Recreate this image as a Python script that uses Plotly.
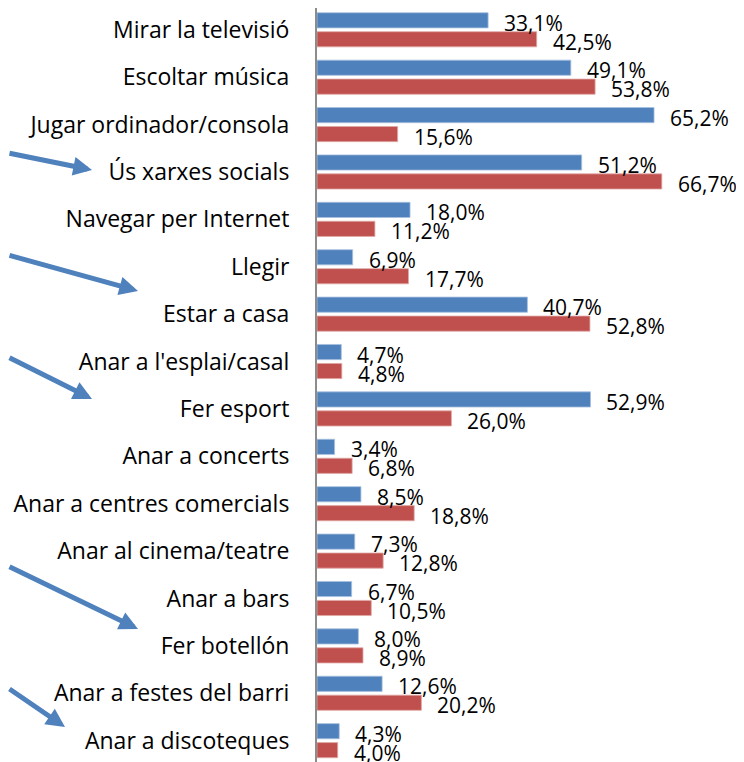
import plotly.graph_objects as go

categories = [
    "Mirar la televisió", "Escoltar música", "Jugar ordinador/consola",
    "Ús xarxes socials", "Navegar per Internet", "Llegir", "Estar a casa",
    "Anar a l'esplai/casal", "Fer esport", "Anar a concerts",
    "Anar a centres comercials", "Anar al cinema/teatre", "Anar a bars",
    "Fer botellón", "Anar a festes del barri", "Anar a discoteques",
]
blue_vals = [33.1, 49.1, 65.2, 51.2, 18.0, 6.9, 40.7, 4.7, 52.9, 3.4, 8.5, 7.3, 6.7, 8.0, 12.6, 4.3]
red_vals = [42.5, 53.8, 15.6, 66.7, 11.2, 17.7, 52.8, 4.8, 26.0, 6.8, 18.8, 12.8, 10.5, 8.9, 20.2, 4.0]

BLUE = "#4F81BD"
RED = "#C0504D"
FONT = "Open Sans"

# the page body keeps its default 8px margin, so the figure is 8px smaller
PAGE_OFF = 8
W, H = 744 - PAGE_OFF, 762 - PAGE_OFF
ML, MT = 317 - PAGE_OFF, 0


def fmt(v):
    return f"{v:.1f}".replace(".", ",") + "%"


fig = go.Figure()
fig.add_trace(go.Bar(y=categories, x=blue_vals, orientation="h",
                     marker=dict(color=BLUE, line=dict(color="#A7C0DE", width=0.8)),
                     hoverinfo="x+y"))
fig.add_trace(go.Bar(y=categories, x=red_vals, orientation="h",
                     marker=dict(color=RED, line=dict(color="#E0A8A6", width=0.8)),
                     hoverinfo="x+y"))

annotations = []
# value labels to the right of each bar
for cat, b, r in zip(categories, blue_vals, red_vals):
    annotations.append(dict(x=b, y=cat, xref="x", yref="y", text=fmt(b), showarrow=False,
                            xanchor="left", xshift=14, yshift=7, font=dict(size=21)))
    annotations.append(dict(x=r, y=cat, xref="x", yref="y", text=fmt(r), showarrow=False,
                            xanchor="left", xshift=14, yshift=-12, font=dict(size=21)))

# decorative arrows on the left (page pixel positions: tail -> tip)
arrows = [((-10, 153), (92, 170)), ((-10, 255), (138, 291)), ((-10, 357), (92, 399)),
          ((-10, 566), (138, 629)), ((-10, 688), (65, 727))]
pw, ph = W - ML, H - MT
for (tx, ty), (hx, hy) in arrows:
    fx, fy = hx - PAGE_OFF, hy - PAGE_OFF
    annotations.append(dict(
        x=(fx - ML) / pw, y=1 - (fy - MT) / ph, xref="paper", yref="paper",
        ax=tx - hx, ay=ty - hy, axref="pixel", ayref="pixel",
        showarrow=True, arrowhead=2, arrowsize=0.75, arrowwidth=5,
        arrowcolor=BLUE, text="", standoff=0))

fig.update_layout(
    width=W, height=H,
    margin=dict(l=ML, r=0, t=MT, b=0, autoexpand=False),
    paper_bgcolor="white", plot_bgcolor="white",
    barmode="group", bargap=0.2, bargroupgap=0.2,
    showlegend=False,
    font=dict(family=FONT, size=21, color="black"),
    annotations=annotations,
    xaxis=dict(range=[0, 82.6], visible=False, fixedrange=True, automargin=False),
    yaxis=dict(range=[15.45, -0.46], showline=True, linecolor="#8C8C8C", linewidth=2,
               ticks="", ticklabelstandoff=21, showgrid=False, fixedrange=True,
               automargin=False,
               tickfont=dict(family=FONT, size=23, color="black")),
)

fig.write_html("out.html")
